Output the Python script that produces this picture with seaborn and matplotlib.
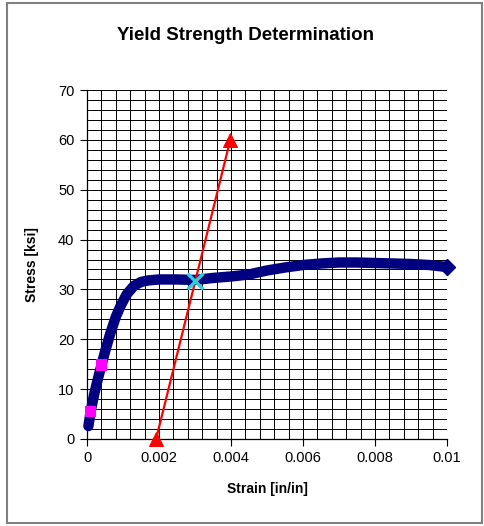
import matplotlib
matplotlib.use("Agg")
import matplotlib.pyplot as plt
import seaborn as sns
import pandas as pd
import numpy as np
from matplotlib.patches import Rectangle

# ---- data ----
strain = [0.00004, 0.0001, 0.0002, 0.0003, 0.0004, 0.0005, 0.00064, 0.0008, 0.00092,
          0.0011, 0.0013, 0.0015, 0.0017, 0.002, 0.0025, 0.003, 0.0035, 0.004, 0.0045,
          0.005, 0.0055, 0.006, 0.0065, 0.007, 0.0075, 0.008, 0.0085, 0.009, 0.0095, 0.01]
stress = [2.6, 5.5, 9.0, 12.0, 14.8, 17.5, 21.0, 24.5, 26.5,
          29.0, 30.7, 31.5, 31.8, 32.0, 32.0, 31.9, 32.3, 32.6, 33.0,
          33.8, 34.4, 34.9, 35.2, 35.4, 35.4, 35.3, 35.2, 35.1, 34.9, 34.5]
pts_strain = [0.0001, 0.0004]
pts_stress = [5.5, 14.8]
offset_strain = [0.00192, 0.00398]
offset_stress = [0.0, 60.0]
yield_strain = [0.003]
yield_stress = [31.7]
x_ticks = [0, 0.002, 0.004, 0.006, 0.008, 0.01]
x_ticklabels = ["0", "0.002", "0.004", "0.006", "0.008", "0.01"]
y_ticks = [0, 10, 20, 30, 40, 50, 60, 70]

sns.set_style("white")
plt.rcParams['font.family'] = ['Liberation Sans', 'DejaVu Sans']
plt.rcParams['text.color'] = 'black'
plt.rcParams['axes.labelcolor'] = 'black'
plt.rcParams['xtick.color'] = 'black'
plt.rcParams['ytick.color'] = 'black'

fig = plt.figure(figsize=(4.84, 5.26), dpi=100)
ax = fig.add_axes([87/484, 1-439/526, 360/484, 349/526])

df = pd.DataFrame({"strain": strain, "stress": stress})
sns.lineplot(data=df, x="strain", y="stress", sort=False, ax=ax, color="#000080",
             linewidth=7.5, solid_capstyle="round", zorder=3, clip_on=False)
ax.plot(strain[-1:], stress[-1:], marker="D", color="#000080", markersize=8, zorder=3, clip_on=False)

sns.lineplot(x=offset_strain, y=offset_stress, ax=ax, color="#FF0000", linewidth=1.6,
             marker="^", markersize=10, markeredgecolor="#FF0000", zorder=4, clip_on=False)

sns.scatterplot(x=pts_strain, y=pts_stress, ax=ax, color="#FF00FF", marker="s", s=70,
                edgecolor="none", zorder=5, clip_on=False)
sns.scatterplot(x=yield_strain, y=yield_stress, ax=ax, color="#33CCDD", marker="x", s=130,
                linewidth=2.4, zorder=6)

ax.set_xlim(0, 0.01)
ax.set_ylim(0, 70)
ax.set_xticks(x_ticks)
ax.set_xticklabels(x_ticklabels)
ax.set_yticks(y_ticks)
ax.set_xticks(np.arange(0, 0.01 + 1e-9, 0.0004), minor=True)
ax.set_yticks(np.arange(0, 70 + 1e-9, 2), minor=True)
ax.grid(True, which="both", color="black", linewidth=0.7, zorder=0)
ax.set_axisbelow(True)
ax.tick_params(which="minor", length=0)
ax.tick_params(which="major", direction="out", length=5, width=0.8, color="black",
               labelsize=10.5, pad=4, left=True, bottom=True, labelcolor="black")
for s in ["top", "right"]:
    ax.spines[s].set_visible(False)
for s in ["left", "bottom"]:
    ax.spines[s].set_color("black")
    ax.spines[s].set_linewidth(0.9)

ax.set_xlabel("Strain [in/in]", fontsize=10, fontweight="bold", labelpad=12, color="black")
ax.set_ylabel("Stress [ksi]", fontsize=10, fontweight="bold", labelpad=14, color="black")
fig.text(245/484, 1-36/526, "Yield Strength Determination", ha="center", va="center",
         fontsize=13.5, fontweight="bold", color="black")

# outer frame
fig.patches.append(Rectangle((7/484, 1-523/526), 475/484, 520/526, transform=fig.transFigure,
                             fill=False, edgecolor="#808080", linewidth=1.5))

fig.savefig("out.png", dpi=100)
